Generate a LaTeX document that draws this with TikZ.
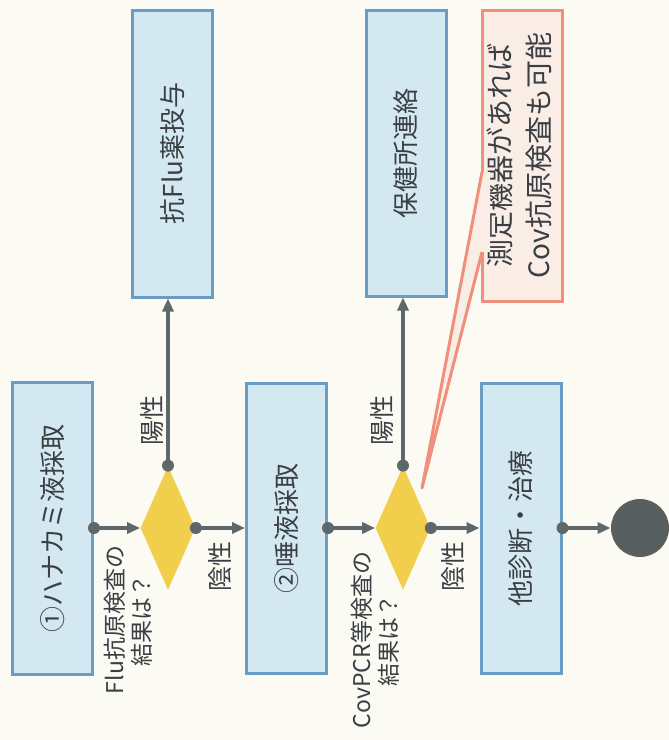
\documentclass[tikz,border=0pt]{standalone}
\usepackage{fontspec}
\setmainfont{Noto Sans CJK JP}
\usetikzlibrary{shapes.geometric,arrows.meta,calc}
\definecolor{bg}{HTML}{FBFBF4}
\definecolor{boxfill}{HTML}{D4E8F1}
\definecolor{boxline}{HTML}{6A9DC4}
\definecolor{diafill}{HTML}{F1CF4C}
\definecolor{connc}{HTML}{5E686B}
\definecolor{endc}{HTML}{58605F}
\definecolor{txt}{HTML}{3A3F44}
\definecolor{callfill}{HTML}{FAEDE6}
\definecolor{callline}{HTML}{F0907C}
\begin{document}
\begin{tikzpicture}[x=0.5pt,y=-0.5pt,
  box/.style={draw=boxline, fill=boxfill, line width=1.5pt, minimum width=40pt, inner sep=0pt, text=txt, font=\fontsize{13}{15}\selectfont},
  dia/.style={diamond, fill=diafill, draw=none, minimum width=27.5pt, minimum height=62pt, inner sep=0pt, aspect=0.45},
  conn/.style={draw=connc, line width=1.6pt, -{Triangle[length=6.5pt,width=5.5pt]}},
  dotc/.style={fill=connc},
  lbl/.style={text=txt, font=\fontsize{12.5}{14}\selectfont, inner sep=0pt},
  qlbl/.style={text=txt, font=\fontsize{11.5}{12.5}\selectfont, inner sep=0pt},
]
\fill[bg] (0,0) rectangle (669,740);
\useasboundingbox (0,0) rectangle (669,740);

% boxes
\node[box, minimum height=146pt] (b1) at (52.5,528) {\rotatebox{90}{①ハナカミ液採取}};
\node[box, minimum height=143.5pt] (flu) at (172.5,153.5) {\rotatebox{90}{抗Flu薬投与}};
\node[box, minimum height=145pt] (b2) at (286.5,528) {\rotatebox{90}{②唾液採取}};
\node[box, minimum height=143pt] (hoken) at (406,153) {\rotatebox{90}{保健所連絡}};
\node[box, minimum height=145pt] (b3) at (521,528) {\rotatebox{90}{他診断・治療}};

% diamonds
\node[dia] (d1) at (168,528) {};
\node[dia] (d2) at (403,528) {};

% end circle
\node[circle, fill=endc, minimum size=29pt, inner sep=0pt] (end) at (640,528) {};

% connectors
\draw[conn] (b1.east) -- (d1.west);
\draw[conn] (d1.east) -- (b2.west);
\draw[conn] (d1.north) -- (d1.north |- flu.south);
\draw[conn] (b2.east) -- (d2.west);
\draw[conn] (d2.east) -- (b3.west);
\draw[conn] (d2.north) -- (d2.north |- hoken.south);
\draw[conn] (b3.east) -- (end.west);
\foreach \p in {b1.east,d1.east,d1.north,b2.east,d2.east,d2.north,b3.east}
  \fill[dotc] (\p) circle (3pt);

% labels
\node[qlbl] (q1) at (131,620) {\rotatebox{90}{\begin{tabular}{@{}c@{}}Flu抗原検査の\\結果は？\end{tabular}}};
\node[qlbl] (q2) at (378,640) {\rotatebox{90}{\begin{tabular}{@{}c@{}}CovPCR等検査の\\結果は？\end{tabular}}};
\node[lbl] (y1) at (152,420) {\rotatebox{90}{陽性}};
\node[lbl] (n1) at (220,566) {\rotatebox{90}{陰性}};
\node[lbl] (y2) at (382,420) {\rotatebox{90}{陽性}};
\node[lbl] (n2) at (453,566) {\rotatebox{90}{陰性}};

% callout
\node[draw=callline, fill=callfill, line width=1.5pt, minimum width=40pt, minimum height=145.5pt, inner sep=0pt, text=txt, font=\fontsize{14}{19.5}\selectfont] (call) at (522,155.5)
  {\rotatebox{90}{\begin{tabular}{@{}c@{}}測定機器があれば\\Cov抗原検査も可能\end{tabular}}};
\coordinate (tip) at (422,488);
\coordinate (pa) at (482,172);
\coordinate (pb) at (482,252);
\fill[callfill] (tip) -- (pa) -- (490,172) -- (490,252) -- (pb) -- cycle;
\draw[callline, line width=1.5pt, line join=round] (pa) -- (tip) -- (pb);
\end{tikzpicture}
\end{document}
